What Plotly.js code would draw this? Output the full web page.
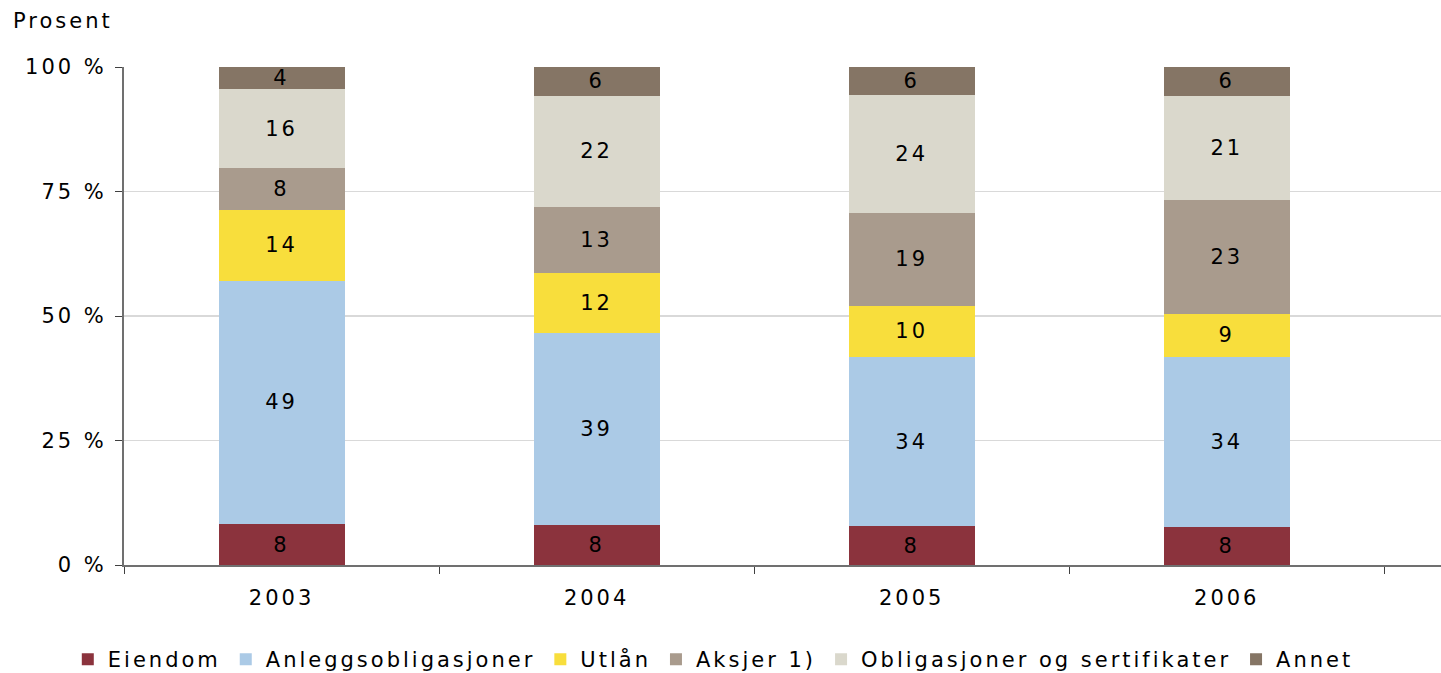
<!DOCTYPE html>
<html>
<head>
<meta charset="utf-8">
<script src="https://cdn.plot.ly/plotly-3.0.1.min.js"></script>
<style>
html,body{margin:0;padding:0;background:#fff;}
#chart{width:1441px;height:673px;}
text{letter-spacing:3px;}
.legendpoints path{stroke-width:4px !important;}
</style>
</head>
<body>
<div id="chart"></div>
<script>
const years = ["2003", "2004", "2005", "2006"];
const eiendom = [8.2, 8.0, 7.8, 7.6];
const anlegg = [48.9, 38.6, 34.0, 34.2];
const utlan = [14.2, 12.0, 10.3, 8.6];
const aksjer = [8.4, 13.3, 18.6, 22.9];
const obligasjoner = [15.9, 22.3, 23.7, 20.9];
const annet = [4.4, 5.8, 5.6, 5.8];
const seriesNames = ["Eiendom", "Anleggsobligasjoner", "Utlån", "Aksjer 1)", "Obligasjoner og sertifikater", "Annet"];
const seriesColors = ["#8b333d", "#abcae6", "#f8de3c", "#a99b8d", "#dad8cc", "#857565"];
const seriesValues = [eiendom, anlegg, utlan, aksjer, obligasjoner, annet];
const yTickVals = [0, 25, 50, 75, 100];
const yTickText = ["0 %", "25 %", "50 %", "75 %", "100 %"];

const FONT = "DejaVu Sans, Verdana, sans-serif";
const FS = 21;
const traces = seriesValues.map((vals, i) => ({
  type: "bar",
  name: seriesNames[i],
  x: years,
  y: vals,
  marker: {color: seriesColors[i], line: {width: 0, color: seriesColors[i]}},
  text: vals.map(v => String(Math.round(v))),
  texttemplate: "%{text}",
  textposition: "inside",
  insidetextanchor: "middle",
  textangle: 0,
  constraintext: "none",
  textfont: {family: FONT, size: FS, color: "#000"},
  hoverinfo: "name+y"
}));

const layout = {
  width: 1441, height: 673,
  margin: {l: 124, r: 0, t: 67, b: 108, autoexpand: false},
  barmode: "stack",
  bargap: 0.6,
  paper_bgcolor: "#fff",
  plot_bgcolor: "#fff",
  font: {family: FONT, size: FS, color: "#000"},
  uniformtext: {minsize: FS, mode: "show"},
  showlegend: true,
  legend: {orientation: "h", traceorder: "normal", xref: "container", yref: "container",
           x: 0.495, xanchor: "center", y: 0.02, yanchor: "middle",
           font: {family: FONT, size: FS, color: "#000"}, itemwidth: 30, tracegroupgap: 0},
  xaxis: {
    type: "category",
    range: [-0.5, 3.68],
    tickson: "boundaries",
    ticks: "outside", ticklen: 7, tickcolor: "#404040", tickwidth: 1,
    ticklabelstandoff: 13,
    showline: true, linecolor: "#707070", linewidth: 2,
    showgrid: false, zeroline: false,
    automargin: false,
    tickfont: {family: FONT, size: FS, color: "#000"}
  },
  yaxis: {
    range: [0, 100],
    tickvals: yTickVals, ticktext: yTickText,
    ticks: "outside", ticklen: 7, tickcolor: "#404040", tickwidth: 1,
    ticklabelstandoff: 4,
    showline: true, linecolor: "#707070", linewidth: 2,
    showgrid: true, gridcolor: "#d9d9d9", gridwidth: 1.5,
    zeroline: false,
    automargin: false,
    tickfont: {family: FONT, size: FS, color: "#000"}
  },
  annotations: [{
    text: "Prosent", xref: "paper", yref: "paper", x: -0.086, y: 1.0, xanchor: "left", yanchor: "bottom",
    yshift: 32, showarrow: false, font: {family: FONT, size: FS, color: "#000"}
  }]
};

Plotly.newPlot("chart", traces, layout, {displayModeBar: false, staticPlot: true});
</script>
</body>
</html>
